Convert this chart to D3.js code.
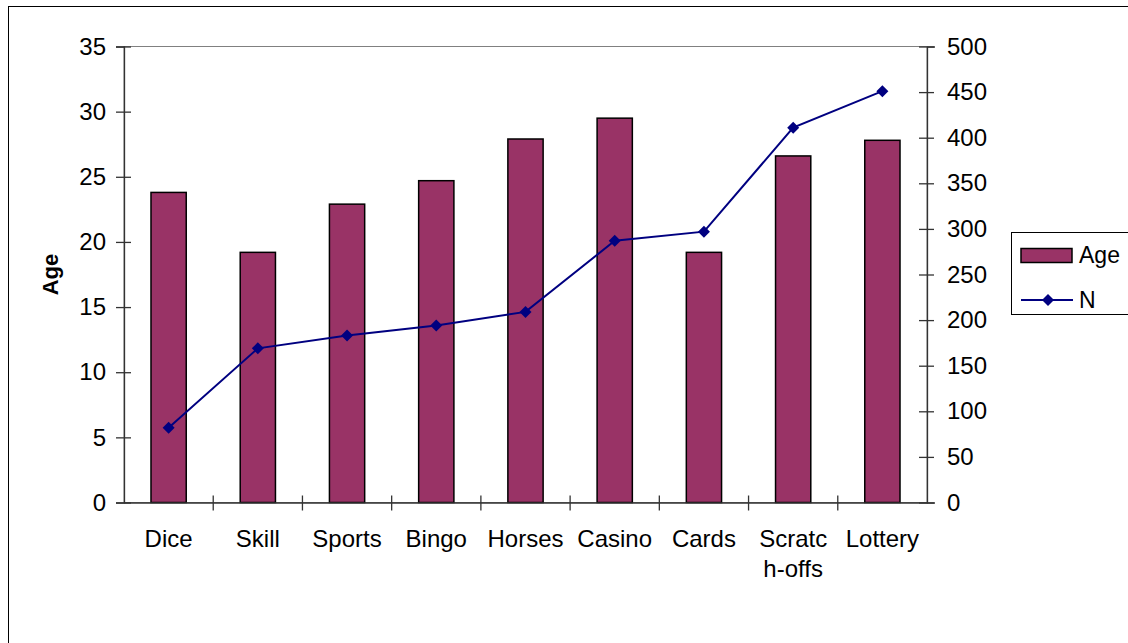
<!DOCTYPE html>
<html>
<head>
<meta charset="utf-8">
<script src="https://cdn.jsdelivr.net/npm/d3@7"></script>
<style>
  html, body { margin: 0; padding: 0; background: #fff; }
  svg { display: block; }
  text { font-family: "Liberation Sans", Arial, sans-serif; fill: #000; }
</style>
</head>
<body>
<svg id="chart" width="1128" height="643"></svg>
<script>
// ---- data ----
const categories = ["Dice", "Skill", "Sports", "Bingo", "Horses", "Casino", "Cards", "Scratch-offs", "Lottery"];
const tickLabels = [["Dice"], ["Skill"], ["Sports"], ["Bingo"], ["Horses"], ["Casino"], ["Cards"], ["Scratc", "h-offs"], ["Lottery"]];
const ageValues = [23.8, 19.2, 22.9, 24.7, 27.9, 29.5, 19.2, 26.6, 27.8];
const nValues = [82, 169, 183, 194, 209, 287, 297, 411, 451];
const leftTicks = [0, 5, 10, 15, 20, 25, 30, 35];
const rightTicks = [0, 50, 100, 150, 200, 250, 300, 350, 400, 450, 500];
const seriesNames = ["Age", "N"];

// ---- layout ----
const svg = d3.select("#chart");
const plot = { left: 124, right: 927, top: 46.5, bottom: 502.5 };
const barColor = "#993366";
const lineColor = "#000080";
const axisColor = "#333";

// outer chart frame (extends past right/bottom edge)
svg.append("rect")
  .attr("x", 8.5).attr("y", 6.5).attr("width", 1140).attr("height", 660)
  .attr("fill", "#fff").attr("stroke", "#000").attr("stroke-width", 1);

const x = d3.scaleBand().domain(categories).range([plot.left, plot.right]).padding(0);
const yL = d3.scaleLinear().domain([0, 35]).range([plot.bottom, plot.top]);
const yR = d3.scaleLinear().domain([0, 500]).range([plot.bottom, plot.top]);

// plot area border (only top visible)
svg.append("rect")
  .attr("x", plot.left).attr("y", plot.top)
  .attr("width", plot.right - plot.left).attr("height", plot.bottom - plot.top)
  .attr("fill", "none").attr("stroke", "#808080").attr("stroke-width", 1);

// bars
const barW = x.bandwidth() * 0.395;
svg.append("g").selectAll("rect")
  .data(categories)
  .join("rect")
  .attr("x", (d) => x(d) + (x.bandwidth() - barW) / 2)
  .attr("y", (d, i) => yL(ageValues[i]))
  .attr("width", barW)
  .attr("height", (d, i) => plot.bottom - yL(ageValues[i]))
  .attr("fill", barColor)
  .attr("stroke", "#000")
  .attr("stroke-width", 1.5);

// left axis
const gL = svg.append("g")
  .attr("transform", `translate(${plot.left},0)`)
  .call(d3.axisLeft(yL).tickValues(leftTicks).tickSize(8).tickPadding(9));
gL.select(".domain").attr("stroke", axisColor).attr("stroke-width", 1.3);
gL.selectAll(".tick line").attr("x1", 7).attr("x2", -8).attr("stroke", axisColor).attr("stroke-width", 1.3);
gL.selectAll(".tick text").attr("font-size", 24).attr("font-family", "Liberation Sans, Arial, sans-serif").attr("dx", -1);

// right axis
const gR = svg.append("g")
  .attr("transform", `translate(${plot.right},0)`)
  .call(d3.axisRight(yR).tickValues(rightTicks).tickSize(8).tickPadding(12));
gR.select(".domain").attr("stroke", axisColor).attr("stroke-width", 1.3);
gR.selectAll(".tick line").attr("x1", -8).attr("x2", 7).attr("stroke", axisColor).attr("stroke-width", 1.3);
gR.selectAll(".tick text").attr("font-size", 24).attr("font-family", "Liberation Sans, Arial, sans-serif");

// bottom axis: category boundary ticks
const gB = svg.append("g")
  .attr("transform", `translate(0,${plot.bottom})`)
  .call(d3.axisBottom(x).tickSize(0).tickFormat(""));
gB.select(".domain").attr("stroke", axisColor).attr("stroke-width", 1.3);
gB.selectAll(".tick").remove();
const boundaries = categories.slice(1).map((c) => x(c));
gB.selectAll("line.cat")
  .data(boundaries)
  .join("line")
  .attr("class", "cat")
  .attr("x1", (d) => d).attr("x2", (d) => d)
  .attr("y1", -7).attr("y2", 8)
  .attr("stroke", axisColor).attr("stroke-width", 1.3);

// category labels
const labelG = svg.append("g");
categories.forEach((c, i) => {
  const t = labelG.append("text")
    .attr("x", x(c) + x.bandwidth() / 2)
    .attr("y", 547)
    .attr("text-anchor", "middle")
    .attr("font-size", 24);
  tickLabels[i].forEach((line, j) => {
    t.append("tspan")
      .attr("x", x(c) + x.bandwidth() / 2)
      .attr("dy", j === 0 ? 0 : 30)
      .text(line);
  });
});

// N line
const line = d3.line()
  .x((d, i) => x(categories[i]) + x.bandwidth() / 2)
  .y((d) => yR(d));
svg.append("path")
  .datum(nValues)
  .attr("d", line)
  .attr("fill", "none")
  .attr("stroke", lineColor)
  .attr("stroke-width", 2);

svg.append("g").selectAll("path")
  .data(nValues)
  .join("path")
  .attr("d", d3.symbol().type(d3.symbolSquare).size(72))
  .attr("transform", (d, i) => `translate(${x(categories[i]) + x.bandwidth() / 2},${yR(d)}) rotate(45)`)
  .attr("fill", lineColor);

// y-axis title
svg.append("text")
  .attr("transform", `translate(58,${(plot.top + plot.bottom) / 2}) rotate(-90)`)
  .attr("text-anchor", "middle")
  .attr("font-size", 22)
  .attr("font-weight", "bold")
  .text("Age");

// legend
const lg = svg.append("g");
lg.append("rect")
  .attr("x", 1011.5).attr("y", 232.5).attr("width", 140).attr("height", 82)
  .attr("fill", "#fff").attr("stroke", "#000").attr("stroke-width", 1);
lg.append("rect")
  .attr("x", 1021).attr("y", 248.5).attr("width", 51).attr("height", 14)
  .attr("fill", barColor).attr("stroke", "#000").attr("stroke-width", 1.5);
lg.append("text").attr("x", 1079).attr("y", 263).attr("font-size", 23).text(seriesNames[0]);
lg.append("line")
  .attr("x1", 1021).attr("x2", 1073).attr("y1", 300).attr("y2", 300)
  .attr("stroke", lineColor).attr("stroke-width", 2);
lg.append("path")
  .attr("d", d3.symbol().type(d3.symbolSquare).size(72))
  .attr("transform", "translate(1048,300) rotate(45)")
  .attr("fill", lineColor);
lg.append("text").attr("x", 1079).attr("y", 308).attr("font-size", 23).text(seriesNames[1]);
</script>
</body>
</html>
